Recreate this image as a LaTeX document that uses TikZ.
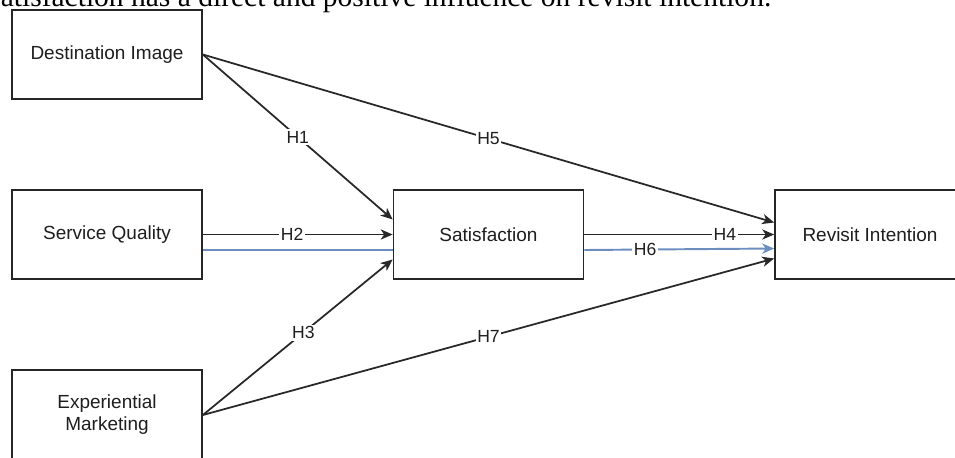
\documentclass[tikz,border=0pt]{standalone}
\usepackage{fontspec}
\setmainfont{Liberation Sans}
\newfontfamily\captionserif{Liberation Serif}
\usetikzlibrary{arrows.meta,calc}
\definecolor{linegray}{RGB}{40,40,40}
\definecolor{textgray}{RGB}{30,30,30}
\definecolor{pathblue}{RGB}{108,142,191}
\tikzset{
  varbox/.style  ={rectangle, draw=black!85, line width=1pt, fill=white, align=center,
                   minimum width=3.8cm, minimum height=1.79cm, text=textgray,
                   font=\fontsize{10.8}{12.5}\selectfont},
  flow/.style    ={-{Stealth[length=6.8pt, width=5.8pt, inset=2pt]}, line width=1pt, draw=linegray},
  flowblue/.style={line width=1.1pt, draw=pathblue},
  lbl/.style     ={fill=white, inner sep=1pt, text=textgray, font=\fontsize{10}{11}\selectfont}
}
\begin{document}
\begin{tikzpicture}[x=0.02cm, y=-0.02cm]
\useasboundingbox (0,0) rectangle (955,457);
\clip (0,0) rectangle (955,457);
% text line above the model, cut by the page edge
\node[anchor=base west, inner sep=0pt, font=\captionserif\fontsize{16.8}{19}\selectfont]
  (caption) at (-16,6) {Satisfaction has a direct and positive influence on revisit intention.};
% Constructs
\node[varbox] (dest) at (107,54.5)  {Destination Image};
\node[varbox] (sq)   at (107,234.5) {Service Quality};
\node[varbox] (em)   at (107,415)   {Experiential\\Marketing};
\node[varbox] (sat)  at (488.5,234.5) {Satisfaction};
\node[varbox] (rev)  at (870,234.5) {Revisit Intention};
% Hypotheses
\draw[flow] (dest.east) -- node[lbl] (h1) {H1} ($(sat.west)+(0,-15)$);
\draw[flow] (dest.east) -- node[lbl] (h5) {H5} ($(rev.west)+(0,-12)$);
\draw[flow] (sq.east) -- node[lbl, pos=0.47] (h2) {H2} (sat.west);
\draw[flowblue] ($(sq.east)+(0,15.5)$) -- ($(sat.west)+(0,15.5)$);
\draw[flow] (em.east) -- node[lbl, pos=0.53] (h3) {H3} ($(sat.west)+(0,25)$);
\draw[flow] (em.east) -- node[lbl] (h7) {H7} ($(rev.west)+(0,24)$);
\draw[flow] (sat.east) -- node[lbl, pos=0.74] (h4) {H4} (rev.west);
\draw[flowblue, -{Stealth[length=6.8pt, width=5.8pt, inset=2pt]}] ($(sat.east)+(0,15.5)$)
  -- node[lbl, pos=0.32] (h6) {H6} ($(rev.west)+(0,14)$);
\end{tikzpicture}
\end{document}
